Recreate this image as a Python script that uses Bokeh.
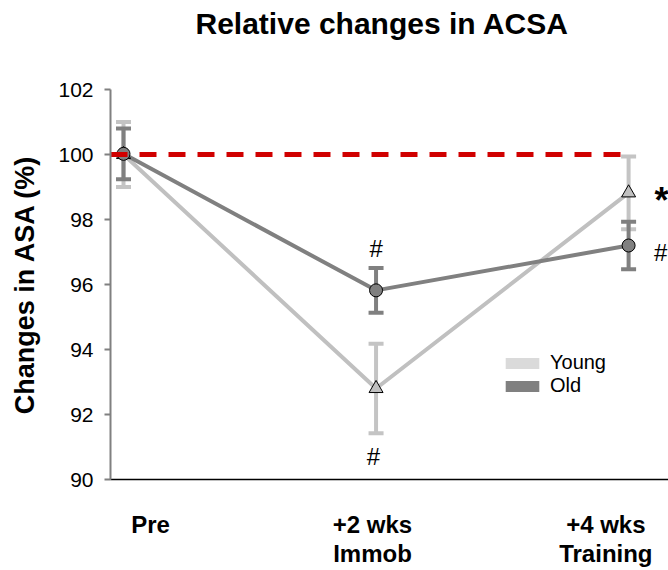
from bokeh.plotting import figure
from bokeh.models import (Range1d, FixedTicker, Whisker, TeeHead, ColumnDataSource,
                          Legend, LegendItem, CustomJSTickFormatter)
from bokeh.core.properties import value
from bokeh.embed import file_html
from bokeh.resources import INLINE

# ---- data ----
categories = ["Pre", "+2 wks\nImmob", "+4 wks\nTraining"]
young_mean = [100.0, 92.8, 98.82]
young_se = [1.0, 1.38, 1.12]
old_mean = [100.02, 95.82, 97.2]
old_se = [0.78, 0.69, 0.73]
y_ticks = [90, 92, 94, 96, 98, 100, 102]
baseline = 100
title_text = "Relative changes in ACSA"
y_label = "Changes in ASA (%)"
series_names = ["Young", "Old"]

FONT = "Liberation Sans"
YOUNG_LINE = "#C0C0C0"
YOUNG_ERR = "#C4C4C4"
YOUNG_LEG = "#DADADA"
OLD_COL = "#808080"
RED = "#D00000"

xs = list(range(len(categories)))

p = figure(width=668, height=570, x_range=Range1d(-0.0515, 2.158), y_range=Range1d(90, 102),
           output_backend="svg", toolbar_location=None,
           min_border_left=110, min_border_right=0, min_border_top=89, min_border_bottom=90)
p.xgrid.visible = False
p.ygrid.visible = False
p.outline_line_color = None
p.background_fill_color = "white"
p.border_fill_color = "white"

# title (an empty second line lifts it towards the top of the page)
p.title.text = title_text + "\n"
p.title.align = "left"
p.title.offset = 85
p.title.vertical_align = "bottom"
p.title.standoff = 0
p.title.text_line_height = 1.5
p.title.text_font = FONT
p.title.text_font_style = "bold"
p.title.text_font_size = "30px"
p.title.text_color = "black"

# y axis
ya = p.yaxis[0]
ya.ticker = FixedTicker(ticks=y_ticks)
ya.minor_tick_line_color = None
ya.major_tick_in = 0
ya.major_tick_out = 6
ya.axis_line_color = "#808080"
ya.axis_line_width = 2
ya.major_tick_line_color = "#808080"
ya.major_tick_line_width = 2
ya.major_label_text_font = FONT
ya.major_label_text_font_size = "21px"
ya.major_label_text_color = "black"
ya.major_label_standoff = 11
ya.axis_label = y_label
ya.axis_label_text_font = FONT
ya.axis_label_text_font_style = "bold"
ya.axis_label_text_font_size = "27px"
ya.axis_label_text_color = "black"
ya.axis_label_standoff = 15

# x axis: black line with category labels (label centres slightly shifted as in the source)
label_offsets = [0.107, -0.014, -0.09]
xa = p.xaxis[0]
xa.ticker = FixedTicker(ticks=[x + o for x, o in zip(xs, label_offsets)])
xa.formatter = CustomJSTickFormatter(args=dict(labels=categories), code="return labels[index];")
xa.axis_line_color = "black"
xa.axis_line_width = 1.5
xa.major_tick_out = 0
xa.major_tick_in = 0
xa.major_tick_line_color = None
xa.minor_tick_line_color = None
xa.major_label_text_font = FONT
xa.major_label_text_font_style = "bold"
xa.major_label_text_font_size = "24px"
xa.major_label_text_color = "black"
xa.major_label_text_line_height = 1.1
xa.major_label_standoff = 31

# error bars
def add_err(mean, se, color):
    src = ColumnDataSource(dict(x=xs,
                                lo=[m - s for m, s in zip(mean, se)],
                                hi=[m + s for m, s in zip(mean, se)]))
    w = Whisker(base="x", lower="lo", upper="hi", source=src,
                line_color=color, line_width=4, level="underlay",
                upper_head=TeeHead(size=15, line_color=color, line_width=4),
                lower_head=TeeHead(size=15, line_color=color, line_width=4))
    p.add_layout(w)

add_err(young_mean, young_se, YOUNG_ERR)
add_err(old_mean, old_se, OLD_COL)

# lines
p.line(xs, young_mean, line_color=YOUNG_LINE, line_width=4)
p.line(xs, old_mean, line_color=OLD_COL, line_width=4)

# markers
p.scatter(xs, young_mean, marker="triangle", size=14, fill_color=YOUNG_LINE,
          line_color="black", line_width=1)
p.scatter(xs, old_mean, marker="circle", size=13, fill_color=OLD_COL,
          line_color="black", line_width=1)

# reference line at 100%
p.line([p.x_range.start, xs[-1]], [baseline, baseline], line_color=RED, line_width=5,
       line_dash="17 12")

# significance marks
young_lo = [m - s for m, s in zip(young_mean, young_se)]
old_hi = [m + s for m, s in zip(old_mean, old_se)]
p.text(x=[xs[1], xs[1] - 0.01, xs[2] + 0.127], y=[old_hi[1] + 0.6, young_lo[1] - 0.7, old_mean[2] - 0.2],
       text=["#", "#", "#"], text_font=value(FONT), text_font_size="24px",
       text_align="center", text_baseline="middle", text_color="black")
p.text(x=[xs[2] + 0.13], y=[young_mean[2] - 0.25], text=["*"], text_font=value(FONT),
       text_font_style="bold", text_font_size="36px", text_align="center",
       text_baseline="alphabetic", text_color="black")

# legend swatches (zero-size rects carry the legend colours)
ry = p.rect(x=xs, y=young_mean, width=0, height=0, fill_color=YOUNG_LEG, line_color=None)
ro = p.rect(x=xs, y=old_mean, width=0, height=0, fill_color=OLD_COL, line_color=None)
leg = Legend(items=[LegendItem(label=series_names[0], renderers=[ry]),
                    LegendItem(label=series_names[1], renderers=[ro])],
             location=(391, 82), padding=0, margin=0, spacing=0,
             glyph_width=42, glyph_height=14, label_standoff=7, label_height=20,
             label_text_font=FONT, label_text_font_size="20px", label_text_color="black",
             border_line_color=None, background_fill_alpha=0)
p.add_layout(leg)

open("out.html", "w").write(file_html(p, INLINE))
